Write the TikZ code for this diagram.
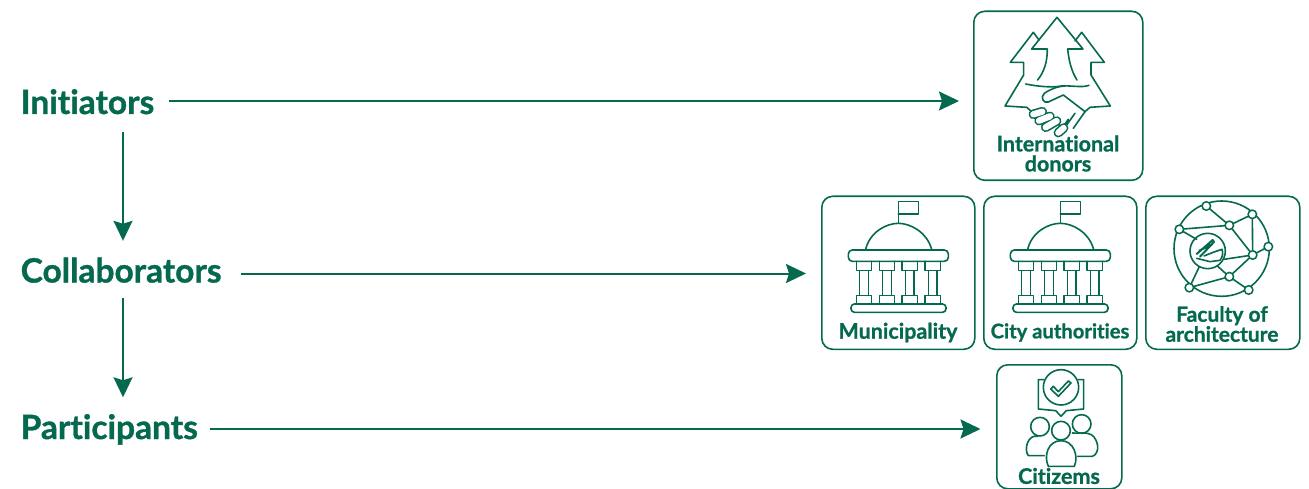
\documentclass[tikz,border=0pt]{standalone}
\usepackage{fontspec}
\setmainfont{Lato}[Ligatures={NoCommon},BoldFeatures={FakeBold=1,Ligatures={NoCommon}}]
\usetikzlibrary{arrows.meta}
\definecolor{gr}{HTML}{04694F}
\tikzset{
 x=1pt,y=-1pt,
 lab/.style={inner sep=0pt,anchor=west,text=gr,font=\bfseries\fontsize{33.5}{33}\selectfont,text height=20pt,text depth=6pt},
 card/.style={draw=gr,line width=1.6pt,rounded corners=11pt,inner sep=0pt,anchor=north west},
 captxt/.style={text=gr,font=\bfseries\fontsize{21.5}{21}\selectfont,align=center,inner sep=0pt},
 arr/.style={draw=gr,line width=2pt,-{Stealth[length=20pt,width=19pt,inset=3pt]}},
 ic/.style={draw=gr,line width=1.6pt,line join=round,line cap=round},
 zm/.style={x=.3333pt,y=-.3333pt},
 netdot/.style={circle,draw=gr,fill=white,line width=1.5pt,minimum size=8.5pt,inner sep=0pt},
}
\newcommand{\temple}{
 \draw[ic] (152,178) .. controls (165,125) and (215,100) .. (250,100) .. controls (285,100) and (335,125) .. (350,178);
 \draw[ic] (250,100) -- (250,34) -- (310,34) -- (310,72) -- (250,72);
 \draw[ic,rounded corners=4pt] (100,180) rectangle (400,214);
 \draw[ic,rounded corners=3.5pt] (108,342) rectangle (393,367);
 \foreach \cx in {147,216,284,353}{
  \draw[ic] (\cx-23,214) -- (\cx-23,242) -- (\cx+23,242) -- (\cx+23,214);
  \draw[ic] (\cx-23,342) -- (\cx-23,316) -- (\cx+23,316) -- (\cx+23,342);
  \draw[ic] (\cx-13,242) -- (\cx-13,316) (\cx+13,242) -- (\cx+13,316);
 }
}
\begin{document}
\begin{tikzpicture}
\useasboundingbox (0,0) rectangle (1309,489);
\node[lab] (init) at (20.5,107) {Initiators};
\node[lab] (coll) at (20.5,275.5) {Collaborators};
\node[lab] (part) at (20.5,432) {Participants};
\node[card,minimum width=169pt,minimum height=169pt] (don) at (973,10.5) {};
\node[card,minimum width=153pt,minimum height=153pt] (mun) at (821,195.5) {};
\node[card,minimum width=153pt,minimum height=153pt] (cit) at (983,195.5) {};
\node[card,minimum width=154pt,minimum height=153pt] (fac) at (1145,195.5) {};
\node[card,minimum width=125pt,minimum height=124pt] (ctz) at (996,364) {};
\path (init.east) ++(0,-6) coordinate (i0);
\path (coll.east) ++(0,-2) coordinate (c0);
\path (part.east) ++(0,-3) coordinate (p0);
\coordinate (i1) at (i0 -| don.west);
\coordinate (c1) at (c0 -| mun.west);
\coordinate (p1) at (p0 -| ctz.west);
\draw[arr,shorten <=15pt,shorten >=14pt] (i0) -- (i1);
\draw[arr,shorten <=19pt,shorten >=15pt] (c0) -- (c1);
\draw[arr,shorten <=12pt,shorten >=15.5pt] (p0) -- (p1);
\coordinate (v0) at (123,0);
\draw[arr,shorten <=12pt,shorten >=21.5pt] (v0 |- init.south) -- (v0 |- coll.north);
\draw[arr,shorten <=9pt,shorten >=21.5pt] (v0 |- coll.south) -- (v0 |- part.north);
\node[captxt] (t1) at (1058,153.5) {International\\[-1pt]donors};
\node[captxt] (t2) at (898,332.5) {Municipality};
\node[captxt,font=\bfseries\fontsize{20.2}{21}\selectfont] (t3) at (1060,332.5) {City authorities};
\node[captxt,font=\bfseries\fontsize{21}{21}\selectfont] (t4) at (1222,324) {Faculty of\\[-1pt]architecture};
\node[captxt] (t5) at (1059,476) {Citizems};
% donors icon
\begin{scope}[shift={(965,0)},zm]
 \draw[ic] (200,335) -- (185,322) -- (120,318) -- (176,225) -- (176,187) -- (136,187) -- (205,97) -- (222,120);
 \draw[ic] (200,147) -- (276,52) -- (354,147) -- (308,147) .. controls (312,185) and (320,215) .. (336,240);
 \draw[ic] (200,147) -- (247,147) .. controls (247,185) and (238,215) .. (218,240);
 \draw[ic] (330,123) -- (350,97) -- (418,187) -- (378,187) -- (378,225) -- (436,318) -- (375,322) -- (360,335);
 \draw[ic] (182,252) .. controls (230,262) and (270,262) .. (290,258) .. controls (320,256) and (350,264) .. (372,256);
 \draw[ic] (300,258) .. controls (280,258) and (255,268) .. (238,280) .. controls (225,292) and (235,312) .. (250,306) -- (295,285) -- (360,335);
 \draw[ic] (360,335) -- (325,385) (330,340) -- (305,375) (310,358) -- (298,375);
 \draw[ic] (255,338) -- (298,395);
 \foreach \a/\b/\c/\d in {205/343/232/335, 222/362/255/349, 242/382/275/363, 280/398/296/384}{
  \draw[draw=gr,line width=9.5pt,line cap=round] (\a,\b) -- (\c,\d);
 }
 \foreach \a/\b/\c/\d in {205/343/232/335, 222/362/255/349, 242/382/275/363, 280/398/296/384}{
  \draw[draw=white,line width=6.3pt,line cap=round] (\a,\b) -- (\c,\d);
 }
\end{scope}
% temples
\begin{scope}[shift={(815,190)},zm]\temple\end{scope}
\begin{scope}[shift={(977,190)},zm]\temple\end{scope}
% faculty icon
\begin{scope}[shift={(1140,190)},zm]
 \draw[ic] (245,176) circle[radius=143];
 \draw[ic] (203,183) circle[radius=53];
 \coordinate (a) at (199,48); \coordinate (b) at (337,73); \coordinate (c) at (118,118);
 \coordinate (d) at (268,106); \coordinate (e) at (385,170); \coordinate (f) at (338,195);
 \coordinate (g) at (268,260); \coordinate (h) at (148,293); \coordinate (k) at (326,300);
 \draw[ic] (a) -- (d) -- (b) -- (f) -- (d) (c) -- (d) (c) -- (170,148) (f) -- (e) (f) -- (252,208) (f) -- (g) -- (k) (g) -- (h) (g) -- (232,228) (h) -- (178,230);
 \foreach \p in {a,b,c,d,e,f,g,h,k}{\node[netdot] at (\p) {};}
 \draw[ic,line width=2pt] (170,192) -- (218,150) -- (222,156) -- (180,200) (178,182) -- (212,165);
 \draw[ic] (170,205) -- (210,215) -- (240,211) .. controls (248,200) and (250,190) .. (246,178) -- (222,186) -- (192,198);
\end{scope}
% citizens icon
\begin{scope}[shift={(985,359)},zm]
 \draw[ic] (176,62) -- (160,62) -- (160,150) -- (212,155) -- (228,172) -- (244,155) -- (296,150) -- (296,62) -- (280,62);
 \draw[ic,fill=white] (228,85) circle[radius=53];
 \draw[ic] (197,90) -- (220,112) -- (258,72) -- (250,66) -- (220,98) -- (205,82) -- cycle;
 \draw[ic] (165,203) circle[radius=28];
 \draw[ic] (290,195) circle[radius=28];
 \draw[ic] (178,290) -- (130,290) .. controls (115,270) and (130,225) .. (158,232);
 \draw[ic] (262,222) .. controls (295,225) and (328,210) .. (338,260) .. controls (340,275) and (332,290) .. (322,292) -- (278,292);
 \draw[ic,fill=white] (228,215) circle[radius=28];
 \draw[ic,fill=white] (190,322) .. controls (175,290) and (190,245) .. (228,245) .. controls (265,245) and (282,290) .. (268,322) -- cycle;
\end{scope}
\end{tikzpicture}
\end{document}
